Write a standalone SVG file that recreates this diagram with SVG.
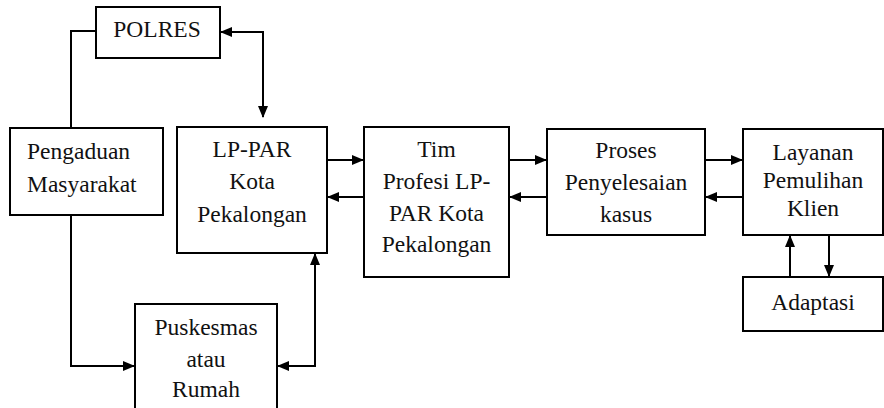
<svg xmlns="http://www.w3.org/2000/svg" width="884" height="408" viewBox="0 0 884 408">
<style>
.box{fill:#fff;stroke:#000;stroke-width:2}
.t{font-family:"Liberation Serif","Times New Roman",Times,"DejaVu Serif",serif;font-size:23.5px;fill:#111;text-anchor:middle}
.c{fill:none;stroke:#000;stroke-width:2}
</style>
<defs>
<marker id="ah" viewBox="0 0 12 10" refX="11" refY="5" markerWidth="12" markerHeight="10" markerUnits="userSpaceOnUse" orient="auto-start-reverse">
<path d="M0,0 L12,5 L0,10 z" fill="#000"/>
</marker>
</defs>
<rect width="884" height="408" fill="#fff"/>
<g id="connectors">
<path class="c" d="M96,31 H71 V128"/>
<path class="c" d="M71,215 V366 H134" marker-end="url(#ah)"/>
<path class="c" d="M221,32 H263 V117" marker-start="url(#ah)" marker-end="url(#ah)"/>
<path class="c" d="M315,254 V366 H278" marker-start="url(#ah)" marker-end="url(#ah)"/>
<path class="c" d="M327,160 H363" marker-end="url(#ah)"/>
<path class="c" d="M364,197 H328" marker-end="url(#ah)"/>
<path class="c" d="M509,160 H546" marker-end="url(#ah)"/>
<path class="c" d="M547,197 H510" marker-end="url(#ah)"/>
<path class="c" d="M705,160 H742" marker-end="url(#ah)"/>
<path class="c" d="M743,197 H706" marker-end="url(#ah)"/>
<path class="c" d="M790,277 V236" marker-end="url(#ah)"/>
<path class="c" d="M829,235 V276" marker-end="url(#ah)"/>
</g>
<g id="polres">
<rect class="box" x="96" y="7" width="124" height="51"/>
<text class="t" x="157" y="37">POLRES</text>
</g>
<g id="pengaduan">
<rect class="box" x="10" y="128" width="153" height="87"/>
<text class="t" x="27" y="159" text-anchor="start" style="text-anchor:start">Pengaduan</text>
<text class="t" x="27" y="192" text-anchor="start" style="text-anchor:start">Masyarakat</text>
</g>
<g id="lppar">
<rect class="box" x="177" y="127" width="150" height="126"/>
<text class="t" x="252" y="157">LP-PAR</text>
<text class="t" x="252" y="189">Kota</text>
<text class="t" x="252" y="222">Pekalongan</text>
</g>
<g id="tim">
<rect class="box" x="364" y="127" width="145" height="150"/>
<text class="t" x="436.5" y="157">Tim</text>
<text class="t" x="436.5" y="189">Profesi LP-</text>
<text class="t" x="436.5" y="221">PAR Kota</text>
<text class="t" x="436.5" y="252">Pekalongan</text>
</g>
<g id="proses">
<rect class="box" x="547" y="129" width="158" height="106"/>
<text class="t" x="626" y="158">Proses</text>
<text class="t" x="626" y="190">Penyelesaian</text>
<text class="t" x="626" y="222">kasus</text>
</g>
<g id="layanan">
<rect class="box" x="743" y="129" width="140" height="106"/>
<text class="t" x="813" y="160">Layanan</text>
<text class="t" x="813" y="188">Pemulihan</text>
<text class="t" x="813" y="216">Klien</text>
</g>
<g id="adaptasi">
<rect class="box" x="743" y="277" width="140" height="54"/>
<text class="t" x="813" y="310">Adaptasi</text>
</g>
<g id="puskesmas">
<rect class="box" x="135" y="304" width="142" height="120"/>
<text class="t" x="206" y="335">Puskesmas</text>
<text class="t" x="206" y="367">atau</text>
<text class="t" x="206" y="397">Rumah</text>
</g>
</svg>
